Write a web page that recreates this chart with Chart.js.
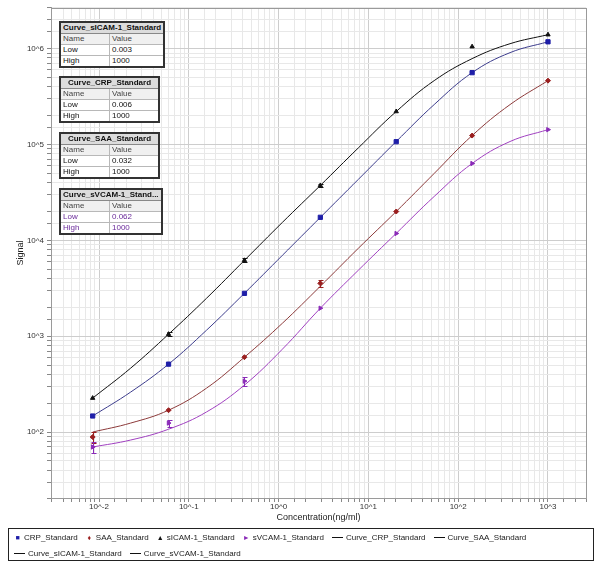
<!DOCTYPE html>
<html>
<head>
<meta charset="utf-8">
<script src="https://cdn.jsdelivr.net/npm/chart.js@4.4.1/dist/chart.umd.min.js"></script>
<style>
    body { margin: 0; background: #fff; font-family: "Liberation Sans", Arial, sans-serif; }
    #wrap { position: relative; width: 602px; height: 566px; }
    #chart { position: absolute; left: 0; top: 0; }
    .tbl { position: absolute; left: 59px; width: 101px; border-collapse: collapse; border: 2px solid #333; background: #fff; font-size: 8px; color: #111; }
    .tbl td { border: 1px solid #b8b8b8; padding: 0 2px; height: 10px; line-height: 10px; white-space: nowrap; }
    .tbl .title td { background: #dcdcdc; font-weight: bold; text-align: center; border-bottom: 1px solid #888; }
    .tbl .head td { background: #f0f0f0; color: #444; }
    .tbl td.c1 { width: 44px; }
    .tbl.purple .data td { color: #6a2a9a; }
    #legend { position: absolute; left: 8px; top: 528px; width: 586px; height: 33px; border: 1px solid #222; display: flex; flex-wrap: wrap; align-content: flex-start; padding: 1px 0 0 5px; box-sizing: border-box; font-size: 8px; color: #222; }
    #legend .item { margin-right: 8px; height: 16px; line-height: 16px; white-space: nowrap; }
    #legend .sym { display: inline-block; width: 7px; font-size: 7px; margin-right: 3px; text-align: center; }
    #legend .line { display: inline-block; width: 11px; height: 0; border-top: 1px solid #111; vertical-align: middle; margin-right: 3px; }
</style>
</head>
<body>
<div id="wrap">
    <canvas id="chart" width="602" height="566"></canvas>
    <div id="tables"></div>
    <div id="legend"></div>
</div>
<script>
// standards (ng/ml)
const concentrations = [0.0085, 0.0595, 0.4165, 2.915, 20.41, 142.86, 1000];

// measured signal per analyte
const crpSignal   = [147, 511, 2800, 17400, 107000, 562000, 1180000];
const saaSignal   = [88.7, 169, 604, 3560, 20000, 124000, 464000];
const sicamSignal = [226, 1050, 6190, 37400, 221000, 1050000, 1400000];
const svcamSignal = [69.8, 124, 340, 1960, 11800, 63400, 143000];

// error bars (+/- signal)
const crpError   = [0, 0, 0, 0, 0, 0, 0];
const saaError   = [11, 0, 0, 330, 0, 0, 0];
const sicamError = [0, 50, 300, 1500, 0, 0, 0];
const svcamError = [9, 10, 36, 0, 0, 0, 0];

// fitted curves
const curveConc  = [0.0085, 0.0225, 0.0595, 0.1575, 0.4165, 1.102, 2.915, 7.71, 20.41, 54.0, 142.86, 378, 1000];
const crpCurve   = [147, 261, 511, 1155, 2806, 6980, 17370, 43200, 107500, 261000, 562000, 909000, 1180000];
const saaCurve   = [100, 124, 169, 287, 604, 1365, 3320, 8250, 20000, 49900, 124000, 261000, 464000];
const sicamCurve = [226, 464, 1049, 2488, 6190, 15400, 37400, 92000, 221000, 464000, 787000, 1127000, 1400000];
const svcamCurve = [69.8, 82.5, 107, 162, 309, 732, 1958, 4870, 11830, 28700, 63400, 107500, 143000];

// fit tables
const tableNames = ['Curve_sICAM-1_Standard', 'Curve_CRP_Standard', 'Curve_SAA_Standard', 'Curve_sVCAM-1_Stand...'];
const tableLow   = ['0.003', '0.006', '0.032', '0.062'];
const tableHigh  = ['1000', '1000', '1000', '1000'];

const xTicksMin = 0.00292, xTicksMax = 2650;
const yTicksMin = 20.5, yTicksMax = 2670000;

const pts = (xs, vals) => vals.map((v, i) => ({ x: xs[i], y: v }));
const isPow10 = v => { const e = Math.log10(v); return Math.abs(e - Math.round(e)) < 1e-6; };
const powLabel = v => isPow10(v) ? '10^' + Math.round(Math.log10(v)) : '';

const errorBars = {
    id: 'errorBars',
    afterDatasetsDraw(chart) {
        const { ctx, scales: { x, y } } = chart;
        chart.data.datasets.forEach(ds => {
            if (!ds.errors) return;
            ctx.save();
            ctx.strokeStyle = ds.errorColor;
            ctx.lineWidth = 1;
            ds.data.forEach((p, j) => {
                const e = ds.errors[j];
                if (!e) return;
                const px = Math.round(x.getPixelForValue(p.x)) + 0.5;
                const top = Math.round(y.getPixelForValue(p.y + e)) + 0.5;
                const bot = Math.round(y.getPixelForValue(p.y - e)) + 0.5;
                ctx.beginPath();
                ctx.moveTo(px, top); ctx.lineTo(px, bot);
                ctx.moveTo(px - 2, top); ctx.lineTo(px + 3, top);
                ctx.moveTo(px - 2, bot); ctx.lineTo(px + 3, bot);
                ctx.stroke();
            });
            ctx.restore();
        });
    }
};

const frame = {
    id: 'frame',
    afterDraw(chart) {
        const { ctx, chartArea: a } = chart;
        ctx.save();
        ctx.strokeStyle = '#9a9a9a';
        ctx.lineWidth = 1;
        ctx.strokeRect(Math.round(a.left) + 0.5, Math.round(a.top) + 0.5, Math.round(a.right - a.left), Math.round(a.bottom - a.top));
        ctx.restore();
    }
};

const gridColor = c => c.tick && isPow10(c.tick.value) ? '#cdcdcd' : '#e8e8e8';

const scatter = (label, vals, errs, color, style, radius, rotation) => ({
    type: 'scatter', label, data: pts(concentrations, vals), errors: errs, errorColor: color,
    pointStyle: style, pointRadius: radius, pointRotation: rotation || 0,
    backgroundColor: color, borderColor: color, borderWidth: 1, order: 0
});
const curve = (label, vals, color) => ({
    type: 'line', label, data: pts(curveConc, vals), borderColor: color, borderWidth: 1,
    pointRadius: 0, tension: 0.4, fill: false, order: 1
});

new Chart(document.getElementById('chart'), {
    data: {
        datasets: [
            curve('Curve_CRP_Standard', crpCurve, '#3c3c8c'),
            curve('Curve_SAA_Standard', saaCurve, '#8c3a3a'),
            curve('Curve_sICAM-1_Standard', sicamCurve, '#111111'),
            curve('Curve_sVCAM-1_Standard', svcamCurve, '#a040c0'),
            scatter('CRP_Standard', crpSignal, crpError, '#1e1ea8', 'rect', 3),
            scatter('SAA_Standard', saaSignal, saaError, '#9a1e1e', 'rectRot', 2.5),
            scatter('sICAM-1_Standard', sicamSignal, sicamError, '#111111', 'triangle', 2.5),
            scatter('sVCAM-1_Standard', svcamSignal, svcamError, '#8a2ab8', 'triangle', 2.5, 90)
        ]
    },
    options: {
        responsive: false,
        animation: false,
        layout: { padding: { left: 0, top: 7, right: 16, bottom: 38 } },
        plugins: { legend: { display: false }, tooltip: { enabled: false } },
        scales: {
            x: {
                type: 'logarithmic', position: 'bottom', min: xTicksMin, max: xTicksMax,
                border: { display: true, color: '#9a9a9a' },
                grid: { color: gridColor, tickColor: '#888', tickLength: 4 },
                ticks: { autoSkip: false, maxRotation: 0, padding: 0, color: '#333', font: { size: 8, family: 'Liberation Sans' }, callback: powLabel },
                title: { display: true, text: 'Concentration(ng/ml)', color: '#222', font: { size: 9, family: 'Liberation Sans' }, padding: { top: 0, bottom: 5 } },
                afterFit: s => { s.height = 30; }
            },
            y: {
                type: 'logarithmic', position: 'left', min: yTicksMin, max: yTicksMax,
                border: { display: true, color: '#9a9a9a' },
                grid: { color: gridColor, tickColor: '#888', tickLength: 4 },
                ticks: { autoSkip: false, padding: 3, color: '#333', font: { size: 8, family: 'Liberation Sans' }, callback: powLabel },
                title: { display: true, text: 'Signal', color: '#222', font: { size: 9, family: 'Liberation Sans' }, padding: { top: 15, bottom: 0 } },
                afterFit: s => { s.width = 51; }
            }
        }
    },
    plugins: [errorBars, frame]
});

// fit parameter tables
const tableTops = [21, 76, 132, 188];
document.getElementById('tables').innerHTML = tableNames.map((name, i) =>
    `<table class="tbl${i === 3 ? ' purple' : ''}" style="top:${tableTops[i]}px">
        <tr class="title"><td colspan="2">${name}</td></tr>
        <tr class="head"><td class="c1">Name</td><td>Value</td></tr>
        <tr class="data"><td class="c1">Low</td><td>${tableLow[i]}</td></tr>
        <tr class="data"><td class="c1">High</td><td>${tableHigh[i]}</td></tr>
    </table>`).join('');

// legend
const legendMarkers = [
    ['CRP_Standard', '&#9632;', '#1e1ea8'],
    ['SAA_Standard', '&#9830;', '#9a1e1e'],
    ['sICAM-1_Standard', '&#9650;', '#111'],
    ['sVCAM-1_Standard', '&#9658;', '#8a2ab8']
];
const legendLines = ['Curve_CRP_Standard', 'Curve_SAA_Standard', 'Curve_sICAM-1_Standard', 'Curve_sVCAM-1_Standard'];
document.getElementById('legend').innerHTML =
    legendMarkers.map(([t, s, c]) => `<span class="item"><span class="sym" style="color:${c}">${s}</span>${t}</span>`).join('') +
    legendLines.map(t => `<span class="item"><span class="line"></span>${t}</span>`).join('');
</script>
</body>
</html>
